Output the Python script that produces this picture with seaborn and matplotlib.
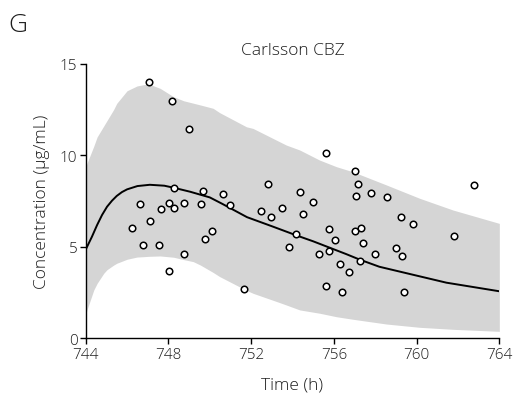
import matplotlib
matplotlib.use("Agg")
import matplotlib.pyplot as plt
import seaborn as sns
import numpy as np
import pandas as pd

# Observed concentrations
obs_time = [747.05, 748.16, 749.01, 748.27, 749.67, 750.62, 752.80, 754.35, 746.61, 747.66,
            748.03, 748.29, 748.75, 749.57, 750.96, 752.49, 752.94, 753.49, 746.26, 747.09,
            746.76, 747.55, 749.77, 750.13, 748.75, 748.01, 751.67, 753.85, 754.19,
            755.61, 757.01, 757.15, 754.99, 754.51, 757.07, 757.78, 758.57, 762.76, 759.25,
            759.82, 761.81, 755.74, 756.04, 757.02, 757.32, 757.39, 755.27, 755.77, 757.28,
            756.29, 756.71, 757.99, 758.99, 759.28, 755.62, 756.41, 759.39]
obs_conc = [14.0, 12.98, 11.45, 8.2, 8.07, 7.88, 8.41, 7.99, 7.32, 7.08,
            7.39, 7.10, 7.39, 7.32, 7.28, 6.97, 6.65, 7.12, 6.01, 6.43,
            5.11, 5.08, 5.44, 5.85, 4.59, 3.69, 2.71, 4.99, 5.70,
            10.11, 9.13, 8.43, 7.43, 6.78, 7.76, 7.92, 7.72, 8.39, 6.61,
            6.23, 5.59, 5.96, 5.39, 5.85, 6.03, 5.23, 4.62, 4.75, 4.24,
            4.06, 3.64, 4.62, 4.95, 4.48, 2.84, 2.53, 2.51]

# Typical prediction
pred_time = [744.0, 744.3, 744.55, 744.79, 745.03, 745.27, 745.5, 745.75, 746.0, 746.5,
             747.1, 747.8, 748.25, 749.05, 750.0, 750.6, 751.8, 753.06, 754.2, 755.0,
             756.6, 757.25, 758.2, 759.8, 761.44, 764.0]
pred_conc = [4.85, 5.55, 6.19, 6.74, 7.19, 7.52, 7.78, 7.99, 8.14, 8.32,
             8.39, 8.34, 8.23, 8.01, 7.70, 7.35, 6.62, 6.10, 5.62, 5.30,
             4.60, 4.30, 3.91, 3.48, 3.04, 2.57]

# Prediction interval band
band_time = [744.0, 744.06, 744.39, 744.55, 744.87, 745.03, 745.35, 745.5, 746.0, 746.48,
             746.8, 747.05, 747.6, 748.25, 748.74, 749.2, 749.55, 750.16, 750.48, 751.77,
             752.09, 753.38, 753.7, 754.35, 755.31, 756.12, 756.92, 758.54, 760.15, 761.76,
             764.0]
band_upper = [9.3, 9.56, 10.5, 11.0, 11.6, 11.9, 12.5, 12.84, 13.53, 13.79,
              13.86, 13.9, 13.66, 13.2, 12.98, 12.85, 12.75, 12.57, 12.33, 11.56,
              11.47, 10.74, 10.56, 10.29, 9.74, 9.38, 9.1, 8.38, 7.65, 7.01,
              6.28]
band_lower = [1.3, 1.55, 2.64, 3.0, 3.55, 3.75, 4.0, 4.1, 4.32, 4.44,
              4.46, 4.48, 4.5, 4.43, 4.3, 4.19, 4.0, 3.6, 3.37, 2.62,
              2.46, 1.95, 1.82, 1.55, 1.37, 1.18, 1.04, 0.78, 0.60, 0.49,
              0.38]

x_ticks = [744, 748, 752, 756, 760, 764]
y_ticks = [0, 5, 10, 15]

sns.set_style("ticks")
plt.rcParams['font.family'] = ['Open Sans', 'DejaVu Sans']
plt.rcParams['font.weight'] = 'light'
txt = "#1e1e1e"

fig = plt.figure(figsize=(5.17, 4.06), dpi=100)
ax = fig.add_axes([0.1658, 0.1643, 0.80, 0.676])

ax.fill_between(band_time, band_lower, band_upper, color="#d5d5d5", linewidth=0, zorder=1)
sns.lineplot(x=pred_time, y=pred_conc, ax=ax, color="black", linewidth=1.4, zorder=2)
sns.scatterplot(x=obs_time, y=obs_conc, ax=ax, marker="o", s=22, facecolor="white",
                edgecolor="black", linewidth=1.1, zorder=3)

ax.set_xlim(744, 764)
ax.set_ylim(0, 15)
ax.set_xticks(x_ticks)
ax.set_yticks(y_ticks)
ax.set_xticklabels([str(t) for t in x_ticks], fontsize=11, color=txt, fontweight='light')
ax.set_yticklabels([str(t) for t in y_ticks], fontsize=11, color=txt, fontweight='light')
ax.tick_params(axis="both", direction="out", length=4, width=1.0, colors="black",
               labelcolor=txt, pad=2)
for s in ["top", "right"]:
    ax.spines[s].set_visible(False)
for s in ["left", "bottom"]:
    ax.spines[s].set_linewidth(1.0)
    ax.spines[s].set_color("black")

ax.set_xlabel("Time (h)", fontsize=12.5, color=txt, labelpad=11, fontweight='light')
ax.set_ylabel("Concentration (µg/mL)", fontsize=12.5, color=txt, labelpad=7, fontweight='light')
ax.set_title("Carlsson CBZ", fontsize=12.5, color=txt, pad=7, fontweight='light')
fig.text(0.016, 0.968, "G", fontsize=19, color=txt, va="top", ha="left", fontweight='light')

fig.savefig("out.png", dpi=100)
